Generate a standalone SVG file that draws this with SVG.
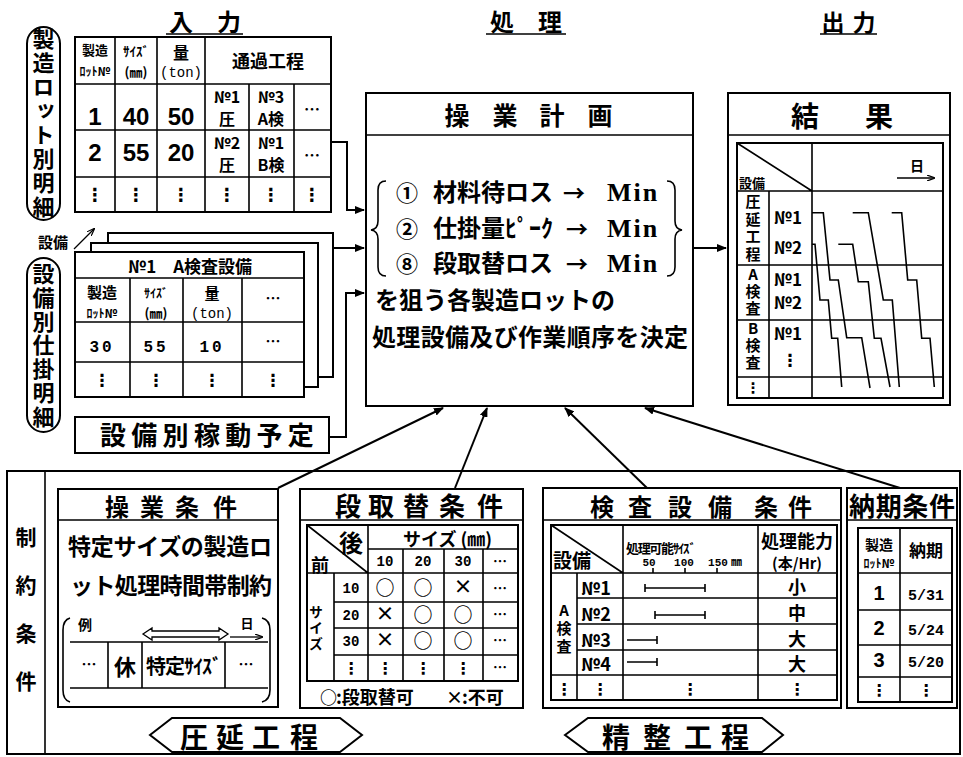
<svg xmlns="http://www.w3.org/2000/svg" width="963" height="757" viewBox="0 0 963 757">
<defs>
<marker id="ah" markerWidth="10" markerHeight="8" refX="9" refY="4" orient="auto" markerUnits="userSpaceOnUse">
<path d="M0,0 L10,4 L0,8 z" fill="#000"/>
</marker>
<marker id="ahs" markerWidth="8" markerHeight="6" refX="7" refY="3" orient="auto" markerUnits="userSpaceOnUse">
<path d="M0,0 L8,3 L0,6" fill="none" stroke="#000" stroke-width="1.2"/>
</marker>
<style>
text{font-family:"Noto Sans CJK JP","DejaVu Sans",sans-serif;fill:#000;font-weight:bold}
.m{text-anchor:middle}
.v{writing-mode:vertical-rl;text-orientation:upright}
.box{fill:#fff;stroke:#000;stroke-width:2}
.ln{fill:none;stroke:#000;stroke-width:1.6}
.con{fill:none;stroke:#000;stroke-width:2}
.g{fill:none;stroke:#000;stroke-width:1.6}
.num{font-family:"Liberation Mono",monospace;font-weight:bold}
.sans{font-family:"Liberation Sans",sans-serif;font-weight:bold}
.ser{font-family:"Liberation Serif",serif;font-weight:bold}
</style>
</defs>
<rect width="963" height="757" fill="#fff"/>

<g id="titles">
<text x="205" y="31" class="m" font-size="24">入　力</text>
<line x1="166" y1="34" x2="243" y2="34" class="ln"/>
<text x="526" y="31" class="m" font-size="24">処　理</text>
<line x1="486" y1="34" x2="566" y2="34" class="ln"/>
<text x="833" y="31" class="m" font-size="23">出</text>
<text x="864" y="31" class="m" font-size="23">力</text>
<line x1="820" y1="34" x2="877" y2="34" class="ln"/>
</g>

<g id="label-lot">
<rect x="27" y="27" width="33" height="193" rx="16.5" class="box"/>
<text x="43.5" y="28" class="v" font-size="22" letter-spacing="2">製造ロット別明細</text>
</g>

<g id="label-wip">
<rect x="27" y="258" width="33" height="174" rx="16.5" class="box"/>
<text x="43.5" y="263" class="v" font-size="22" letter-spacing="1.7">設備別仕掛明細</text>
</g>

<g id="lot-table">
<rect x="75" y="37" width="256" height="175" class="box"/>
<path class="ln" d="M115,37V212 M157,37V212 M205,37V212 M249,84V212 M294,84V212 M75,84H331 M75,130H331 M75,177H331"/>
<text x="95" y="55" class="m" font-size="13">製造</text>
<text x="95" y="76" class="m" font-size="12">ﾛｯﾄ№</text>
<text x="136" y="56" class="m" font-size="13">ｻｲｽﾞ</text>
<text x="136" y="77" class="m" font-size="13">(㎜)</text>
<text x="181" y="59" class="m" font-size="16">量</text>
<text x="181" y="77" class="m num" font-size="14" style="font-weight:normal">(ton)</text>
<text x="268" y="68" class="m" font-size="18">通過工程</text>
<text x="95" y="125" class="m sans" font-size="24">1</text>
<text x="136" y="125" class="m sans" font-size="24">40</text>
<text x="181" y="125" class="m sans" font-size="24">50</text>
<text x="227" y="103" class="m" font-size="16">№1</text>
<text x="227" y="125" class="m" font-size="16">圧</text>
<text x="271" y="103" class="m" font-size="16">№3</text>
<text x="271" y="125" class="m" font-size="16">A検</text>
<text x="312" y="115" class="m" font-size="16">…</text>
<text x="95" y="161" class="m sans" font-size="24">2</text>
<text x="136" y="161" class="m sans" font-size="24">55</text>
<text x="181" y="161" class="m sans" font-size="24">20</text>
<text x="227" y="149" class="m" font-size="16">№2</text>
<text x="227" y="171" class="m" font-size="16">圧</text>
<text x="271" y="149" class="m" font-size="16">№1</text>
<text x="271" y="171" class="m" font-size="16">B検</text>
<text x="312" y="161" class="m" font-size="16">…</text>
<g font-size="18">
<text x="95" y="201" class="m">⋮</text>
<text x="136" y="201" class="m">⋮</text>
<text x="181" y="201" class="m">⋮</text>
<text x="227" y="201" class="m">⋮</text>
<text x="271" y="201" class="m">⋮</text>
<text x="312" y="201" class="m">⋮</text>
</g>
</g>

<g id="equip-label">
<text x="38" y="248" font-size="15">設備</text>
<line x1="74" y1="249" x2="94" y2="229" stroke="#000" stroke-width="1.3" marker-end="url(#ahs)"/>
</g>

<g id="equip-cards">
<rect x="108" y="233" width="225" height="144" class="box"/>
<rect x="91" y="243" width="227" height="144" class="box"/>
<rect x="75" y="252" width="229" height="145" class="box"/>
<path class="ln" d="M75,278H304 M75,322H304 M75,362H304 M130,278V397 M183,278V397 M242,278V397"/>
<text x="190" y="273" class="m" font-size="17">№1　A検査設備</text>
<text x="102" y="298" class="m" font-size="15">製造</text>
<text x="102" y="318" class="m" font-size="12">ﾛｯﾄ№</text>
<text x="156" y="298" class="m" font-size="12">ｻｲｽﾞ</text>
<text x="156" y="318" class="m" font-size="13">(㎜)</text>
<text x="212" y="299" class="m" font-size="15">量</text>
<text x="212" y="318" class="m num" font-size="14" style="font-weight:normal">(ton)</text>
<text x="273" y="304" class="m" font-size="15">…</text>
<text x="102" y="352" class="m num" font-size="16" letter-spacing="3">30</text>
<text x="156" y="352" class="m num" font-size="16" letter-spacing="3">55</text>
<text x="212" y="352" class="m num" font-size="16" letter-spacing="3">10</text>
<text x="273" y="347" class="m" font-size="15">…</text>
<g font-size="17">
<text x="102" y="386" class="m">⋮</text>
<text x="156" y="386" class="m">⋮</text>
<text x="212" y="386" class="m">⋮</text>
<text x="273" y="386" class="m">⋮</text>
</g>
</g>

<g id="equip-schedule">
<rect x="75" y="417" width="254" height="36" class="box"/>
<text x="100" y="445" font-size="26" letter-spacing="5.3">設備別稼動予定</text>
</g>

<g id="plan">
<rect x="366" y="93" width="327" height="313" class="box"/>
<line x1="366" y1="135" x2="693" y2="135" class="ln"/>
<g font-size="25">
<text x="457" y="125" class="m">操</text>
<text x="505" y="125" class="m">業</text>
<text x="552" y="125" class="m">計</text>
<text x="600" y="125" class="m">画</text>
</g>
<path class="ln" d="M386,181 Q378,181 378,190 L378,221 Q378,229 371,230 Q378,231 378,239 L378,267 Q378,276 386,276"/>
<path class="ln" d="M667,181 Q675,181 675,190 L675,221 Q675,229 682,230 Q675,231 675,239 L675,267 Q675,276 667,276"/>
<text x="396" y="201" font-size="22">①</text>
<text x="433" y="201" font-size="24">材料待ロス</text>
<text x="563" y="201" font-size="22">→</text>
<text x="607" y="201" class="ser" font-size="26" letter-spacing="2">Min</text>
<text x="396" y="237" font-size="22">②</text>
<text x="433" y="237" font-size="24">仕掛量ﾋﾟｰｸ</text>
<text x="566" y="237" font-size="22">→</text>
<text x="607" y="237" class="ser" font-size="26" letter-spacing="2">Min</text>
<text x="396" y="272" font-size="22">⑧</text>
<text x="433" y="272" font-size="24">段取替ロス</text>
<text x="566" y="272" font-size="22">→</text>
<text x="607" y="272" class="ser" font-size="26" letter-spacing="2">Min</text>
<text x="375" y="309" font-size="24">を狙う各製造ロットの</text>
<text x="372" y="346" font-size="24" textLength="316">処理設備及び作業順序を決定</text>
</g>

<g id="result">
<rect x="728" y="93" width="222" height="312" class="box"/>
<line x1="728" y1="135" x2="950" y2="135" class="ln"/>
<text x="805" y="127" class="m" font-size="28">結</text>
<text x="879" y="127" class="m" font-size="28">果</text>
<rect x="737" y="143" width="206" height="255" fill="none" stroke="#000" stroke-width="2"/>
<path class="ln" d="M812,143V398 M769,191V398 M737,191H943 M737,265H943 M737,320H943 M737,377H943 M737,143L812,191"/>
<text x="739" y="188" font-size="13">設備</text>
<text x="917" y="171" class="m" font-size="14">日</text>
<line x1="897" y1="178" x2="934" y2="178" stroke="#000" stroke-width="1.3" marker-end="url(#ahs)"/>
<text x="753" y="194" class="v" font-size="15" letter-spacing="2.5">圧延工程</text>
<text x="753" y="267" class="v" font-size="15" letter-spacing="2">A検査</text>
<text x="753" y="321" class="v" font-size="15" letter-spacing="2">B検査</text>
<text x="753" y="393" class="m" font-size="14.5">⋮</text>
<g font-size="17">
<text x="788" y="224" class="m">№1</text>
<text x="788" y="254" class="m">№2</text>
<text x="788" y="286" class="m">№1</text>
<text x="788" y="309" class="m">№2</text>
<text x="788" y="340" class="m">№1</text>
<text x="790" y="366" class="m">⋮</text>
</g>
<g class="g">
<polyline points="812,212.7 823.3,212.7 830,280 838.3,280 846.7,337.7 861.7,337.7 870,388"/>
<polyline points="812,244.3 815,244.3 820,300 828.3,300 831.7,338.3 837.7,338.3 841.7,387"/>
<polyline points="838.3,244.3 852.7,244.3 858.3,281.7 868.3,281.7 874.3,338.3 881,338.3 890,387"/>
<polyline points="852.7,212.7 868.3,212.7 883.3,300 892.3,300 899.3,387"/>
<polyline points="891.7,212.7 901.7,212.7 907.7,280 916.7,280 921.7,338.3 930,338.3 934.3,387"/>
</g>
</g>

<g id="constraints-frame">
<rect x="7" y="471" width="953" height="283" fill="none" stroke="#000" stroke-width="2"/>
<line x1="45" y1="471" x2="45" y2="754" class="ln"/>
<text x="26" y="527" class="v" font-size="21" letter-spacing="27">制約条件</text>
</g>

<g id="op-cond">
<rect x="58" y="489" width="220" height="218" class="box"/>
<line x1="58" y1="520" x2="278" y2="520" class="ln"/>
<g font-size="24">
<text x="117" y="516" class="m">操</text>
<text x="152" y="516" class="m">業</text>
<text x="187" y="516" class="m">条</text>
<text x="225" y="516" class="m">件</text>
</g>
<text x="68" y="555" font-size="23" textLength="204">特定サイズの製造ロ</text>
<text x="70" y="594" font-size="23" textLength="202">ット処理時間帯制約</text>
<path class="ln" d="M70,618 Q63,620 63,630 L63,690 Q63,700 70,702 M262,618 Q270,620 270,630 L270,690 Q270,700 262,702"/>
<text x="78" y="630" font-size="14">例</text>
<text x="247" y="628" class="m" font-size="13">日</text>
<line x1="230" y1="637" x2="262" y2="637" stroke="#000" stroke-width="1.3" marker-end="url(#ahs)"/>
<polygon points="143,634 152,628 152,631 219,631 219,628 228,634 219,640 219,637 152,637 152,640" fill="#fff" stroke="#000" stroke-width="1.3"/>
<path class="ln" d="M70,642H268 M70,688H268 M108,642V688 M142,642V688 M225,642V688"/>
<text x="89" y="670" class="m" font-size="15">…</text>
<text x="125" y="675" class="m" font-size="22">休</text>
<text x="146" y="674" font-size="20" textLength="76">特定ｻｲｽﾞ</text>
<text x="246" y="670" class="m" font-size="15">…</text>
</g>

<g id="setup-cond">
<rect x="300" y="489" width="223" height="219" class="box"/>
<line x1="300" y1="520" x2="523" y2="520" class="ln"/>
<g font-size="26">
<text x="348" y="516" class="m">段</text>
<text x="381" y="516" class="m">取</text>
<text x="416" y="516" class="m">替</text>
<text x="452" y="516" class="m">条</text>
<text x="490" y="516" class="m">件</text>
</g>
<rect x="307" y="525" width="211" height="156" fill="none" stroke="#000" stroke-width="2"/>
<path class="ln" d="M368,525V681 M403,549V681 M444,549V681 M483,549V681 M334,573V681 M368,549H518 M307,573H518 M334,602H518 M334,628H518 M334,655H518 M307,525L368,573"/>
<text x="351" y="552" class="m" font-size="24">後</text>
<text x="320" y="572" class="m" font-size="18">前</text>
<text x="403" y="546" font-size="18">サイズ (㎜)</text>
<g font-size="14">
<text x="385" y="566" class="m num">10</text>
<text x="423" y="566" class="m num">20</text>
<text x="463" y="566" class="m num">30</text>
<text x="351" y="593" class="m num">10</text>
<text x="351" y="620" class="m num">20</text>
<text x="351" y="646" class="m num">30</text>
</g>
<text x="500" y="566" class="m" font-size="14">…</text>
<g font-size="19">
<text x="385" y="595" class="m">○</text>
<text x="423" y="595" class="m">○</text>
<text x="463" y="594" class="m">×</text>
<text x="385" y="621" class="m">×</text>
<text x="423" y="622" class="m">○</text>
<text x="463" y="622" class="m">○</text>
<text x="385" y="647" class="m">×</text>
<text x="423" y="648" class="m">○</text>
<text x="463" y="648" class="m">○</text>
</g>
<g font-size="14">
<text x="500" y="593" class="m">…</text>
<text x="500" y="619" class="m">…</text>
<text x="500" y="645" class="m">…</text>
<text x="500" y="672" class="m">…</text>
</g>
<g font-size="16">
<text x="351" y="674" class="m">⋮</text>
<text x="385" y="674" class="m">⋮</text>
<text x="423" y="674" class="m">⋮</text>
<text x="463" y="674" class="m">⋮</text>
</g>
<text x="316" y="605" class="v" font-size="14" letter-spacing="2">サイズ</text>
<text x="320" y="704" font-size="17">○</text>
<text x="336" y="704" font-size="18">:段取替可</text>
<text x="446" y="704" font-size="17">×</text>
<text x="462" y="704" font-size="18">:不可</text>
</g>

<g id="insp-cond">
<rect x="543" y="488" width="298" height="220" class="box"/>
<line x1="543" y1="520" x2="841" y2="520" class="ln"/>
<g font-size="24">
<text x="602" y="516" class="m">検</text>
<text x="640" y="516" class="m">査</text>
<text x="680" y="516" class="m">設</text>
<text x="720" y="516" class="m">備</text>
<text x="766" y="516" class="m">条</text>
<text x="800" y="516" class="m">件</text>
</g>
<rect x="551" y="525" width="286" height="175" fill="none" stroke="#000" stroke-width="2"/>
<path class="ln" d="M623,525V700 M758,525V700 M577,573V700 M551,573H837 M577,598H837 M577,624H837 M577,650H837 M551,675H837 M551,525L623,573"/>
<text x="553" y="568" font-size="19">設備</text>
<text x="626" y="553" font-size="13" textLength="70">処理可能ｻｲｽﾞ</text>
<g font-size="11">
<text x="649" y="566" class="m num">50</text>
<text x="684" y="566" class="m num">100</text>
<text x="718" y="566" class="m num">150</text>
</g>
<text x="731" y="566" font-size="11">㎜</text>
<path class="ln" d="M653,568V573 M685,568V573 M717,568V573" stroke-width="1.2"/>
<text x="797" y="548" class="m" font-size="18">処理能力</text>
<text x="797" y="569" class="m" font-size="15">(本/Hr)</text>
<text x="564" y="603" class="v" font-size="15" letter-spacing="3">A検査</text>
<g font-size="16">
<text x="564" y="695" class="m">⋮</text>
<text x="600" y="695" class="m">⋮</text>
<text x="690" y="695" class="m">⋮</text>
<text x="797" y="695" class="m">⋮</text>
</g>
<g font-size="18">
<text x="581" y="595">№1</text>
<text x="581" y="621">№2</text>
<text x="581" y="647">№3</text>
<text x="581" y="671">№4</text>
<text x="797" y="594" class="m">小</text>
<text x="797" y="620" class="m">中</text>
<text x="797" y="646" class="m">大</text>
<text x="797" y="671" class="m">大</text>
</g>
<path class="ln" stroke-width="1.3" d="M645,588H705 M645,584V592 M705,584V592 M655,615H705 M655,611V619 M705,611V619 M627,640H657 M657,636V644 M627,662H657 M657,658V666"/>
</g>

<g id="due-cond">
<rect x="847" y="488" width="110" height="220" class="box"/>
<line x1="847" y1="520" x2="957" y2="520" class="ln"/>
<text x="849" y="516" font-size="26" textLength="106">納期条件</text>
<rect x="858" y="528" width="94" height="174" fill="none" stroke="#000" stroke-width="2"/>
<path class="ln" d="M900,528V702 M858,573H952 M858,610H952 M858,645H952 M858,677H952"/>
<text x="879" y="550" class="m" font-size="14">製造</text>
<text x="879" y="568" class="m" font-size="12">ﾛｯﾄ№</text>
<text x="926" y="557" class="m" font-size="17">納期</text>
<text x="879" y="600" class="m sans" font-size="20">1</text>
<text x="879" y="635" class="m sans" font-size="20">2</text>
<text x="879" y="667" class="m sans" font-size="20">3</text>
<text x="926" y="600" class="m num" font-size="15">5/31</text>
<text x="926" y="635" class="m num" font-size="15">5/24</text>
<text x="926" y="667" class="m num" font-size="15">5/20</text>
<text x="879" y="696" class="m" font-size="16">⋮</text>
<text x="926" y="696" class="m" font-size="16">⋮</text>
</g>

<g id="rolling-label">
<polygon points="150,735 172,718 340,718 362,735 340,752 172,752" class="box"/>
<g font-size="28">
<text x="194" y="748" class="m">圧</text>
<text x="230" y="748" class="m">延</text>
<text x="266" y="748" class="m">工</text>
<text x="304" y="748" class="m">程</text>
</g>
</g>

<g id="finishing-label">
<polygon points="565,735 588,718 762,718 783,735 762,752 588,752" class="box"/>
<g font-size="28">
<text x="616" y="748" class="m">精</text>
<text x="657" y="748" class="m">整</text>
<text x="698" y="748" class="m">工</text>
<text x="735" y="748" class="m">程</text>
</g>
</g>

<g id="connectors">
<path class="con" d="M331,142H347V210H364" marker-end="url(#ah)"/>
<path class="con" d="M333,248H364" marker-end="url(#ah)"/>
<path class="con" d="M329,437H346V293H364" marker-end="url(#ah)"/>
<path class="con" d="M693,248H726" marker-end="url(#ah)"/>
<path class="con" d="M278,488L443,408" marker-end="url(#ah)"/>
<path class="con" d="M455,488L487,408" marker-end="url(#ah)"/>
<path class="con" d="M647,488L565,408" marker-end="url(#ah)"/>
<path class="con" d="M900,488L645,408" marker-end="url(#ah)"/>
</g>
</svg>
